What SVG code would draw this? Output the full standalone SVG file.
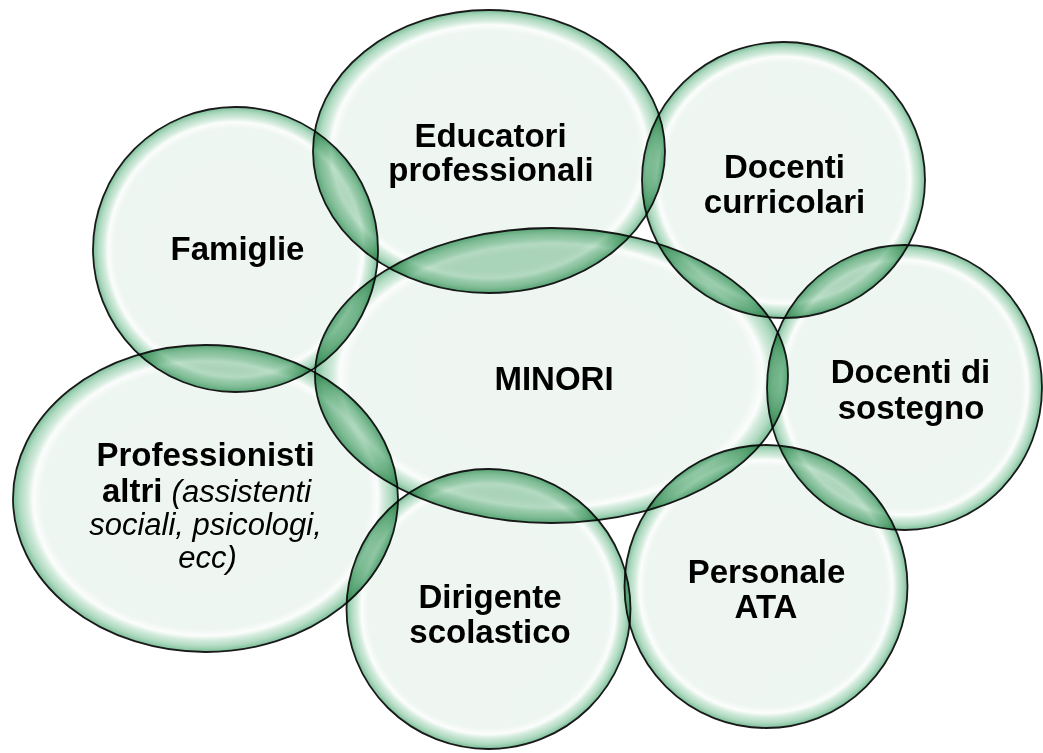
<svg xmlns="http://www.w3.org/2000/svg" width="1043" height="753" viewBox="0 0 1043 753">
<style>
.b{fill:url(#bub);stroke:#1a1a1a;stroke-width:1.8;mix-blend-mode:multiply}
.o{fill:#c4e4d0;mix-blend-mode:multiply}
.t{font-family:"Liberation Sans",Arial,sans-serif;font-weight:bold;font-size:33px;fill:#000;text-anchor:middle}
.i{font-weight:normal;font-style:italic;font-size:31px}
</style>
<defs>
<radialGradient id="bub" cx="50%" cy="50%" r="50%">
<stop offset="0" stop-color="#eff6f2"/>
<stop offset="0.85" stop-color="#eef6f1"/>
<stop offset="0.895" stop-color="#fbfdfc"/>
<stop offset="0.925" stop-color="#d3ebdc"/>
<stop offset="0.965" stop-color="#aed9c0"/>
<stop offset="1" stop-color="#7abf98"/>
</radialGradient>
<clipPath id="cFam"><ellipse cx="235.5" cy="249.5" rx="142.5" ry="142.5"/></clipPath>
<clipPath id="cEdu"><ellipse cx="489" cy="151.5" rx="176" ry="141.5"/></clipPath>
<clipPath id="cCur"><ellipse cx="783.5" cy="180" rx="141.5" ry="138"/></clipPath>
<clipPath id="cSos"><ellipse cx="904.5" cy="387.5" rx="137.5" ry="142.5"/></clipPath>
<clipPath id="cMin"><ellipse cx="551.5" cy="375.5" rx="236.5" ry="147.5"/></clipPath>
<clipPath id="cPro"><ellipse cx="205.5" cy="498.5" rx="192.5" ry="153.5"/></clipPath>
</defs>
<rect width="1043" height="753" fill="#fff"/>
<g id="bubbles">
<g id="famiglie"><ellipse class="b" cx="235.5" cy="249.5" rx="142.5" ry="142.5"/></g>
<g id="educatori"><ellipse class="b" cx="489" cy="151.5" rx="176" ry="141.5"/></g>
<g id="docenti-curricolari"><ellipse class="b" cx="783.5" cy="180" rx="141.5" ry="138"/></g>
<g id="docenti-sostegno"><ellipse class="b" cx="904.5" cy="387.5" rx="137.5" ry="142.5"/></g>
<g id="minori"><ellipse class="b" cx="551.5" cy="375.5" rx="236.5" ry="147.5"/></g>
<g id="professionisti"><ellipse class="b" cx="205.5" cy="498.5" rx="192.5" ry="153.5"/></g>
<g id="dirigente"><ellipse class="b" cx="488.5" cy="609" rx="142" ry="140"/></g>
<g id="ata"><ellipse class="b" cx="766" cy="586.5" rx="141.5" ry="141.5"/></g>
</g>
<g id="overlaps">
<ellipse class="o" clip-path="url(#cFam)" cx="489" cy="151.5" rx="176" ry="141.5"/>
<ellipse class="o" clip-path="url(#cFam)" cx="551.5" cy="375.5" rx="236.5" ry="147.5"/>
<ellipse class="o" clip-path="url(#cFam)" cx="205.5" cy="498.5" rx="192.5" ry="153.5"/>
<ellipse class="o" clip-path="url(#cEdu)" cx="551.5" cy="375.5" rx="236.5" ry="147.5"/>
<ellipse class="o" clip-path="url(#cEdu)" cx="783.5" cy="180" rx="141.5" ry="138"/>
<ellipse class="o" clip-path="url(#cCur)" cx="551.5" cy="375.5" rx="236.5" ry="147.5"/>
<ellipse class="o" clip-path="url(#cCur)" cx="904.5" cy="387.5" rx="137.5" ry="142.5"/>
<ellipse class="o" clip-path="url(#cSos)" cx="551.5" cy="375.5" rx="236.5" ry="147.5"/>
<ellipse class="o" clip-path="url(#cSos)" cx="766" cy="586.5" rx="141.5" ry="141.5"/>
<ellipse class="o" clip-path="url(#cMin)" cx="766" cy="586.5" rx="141.5" ry="141.5"/>
<ellipse class="o" clip-path="url(#cMin)" cx="488.5" cy="609" rx="142" ry="140"/>
<ellipse class="o" clip-path="url(#cMin)" cx="205.5" cy="498.5" rx="192.5" ry="153.5"/>
<ellipse class="o" clip-path="url(#cPro)" cx="488.5" cy="609" rx="142" ry="140"/>
</g>
<g id="labels">
<text class="t" x="237.5" y="260">Famiglie</text>
<text class="t" x="490.5" y="147">Educatori</text>
<text class="t" x="491" y="180.5">professionali</text>
<text class="t" x="784.5" y="177.5">Docenti</text>
<text class="t" x="784.5" y="213">curricolari</text>
<text class="t" x="910.5" y="383">Docenti di</text>
<text class="t" x="911" y="418.5">sostegno</text>
<text class="t" x="554" y="390">MINORI</text>
<text class="t" x="205.5" y="466">Professionisti</text>
<text class="t" x="206.5" y="502">altri <tspan class="i">(assistenti</tspan></text>
<text class="t i" x="205.5" y="534.5">sociali, psicologi,</text>
<text class="t i" x="207.5" y="567.5">ecc)</text>
<text class="t" x="490" y="608">Dirigente</text>
<text class="t" x="490" y="643">scolastico</text>
<text class="t" x="766.5" y="583">Personale</text>
<text class="t" x="766" y="618">ATA</text>
</g>
</svg>
